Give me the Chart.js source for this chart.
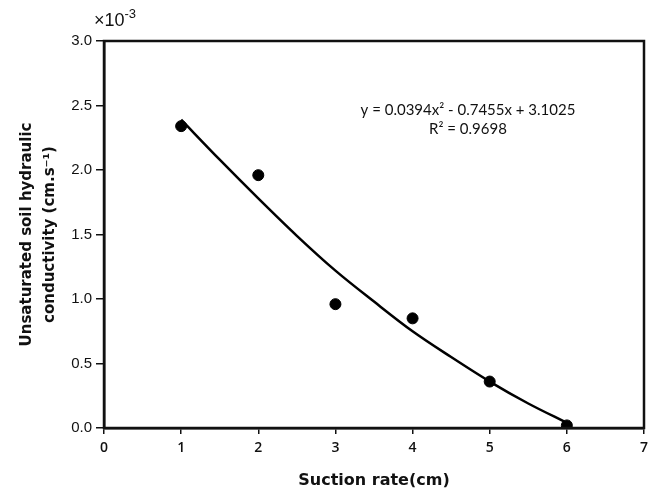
<!DOCTYPE html>
<html>
<head>
<meta charset="utf-8">
<script src="https://cdn.jsdelivr.net/npm/chart.js@4.4.1/dist/chart.umd.min.js"></script>
<style>
  html, body { margin: 0; padding: 0; background: #fff; }
</style>
</head>
<body>
<canvas id="chart" width="654" height="492"></canvas>
<script>
// measured points (suction rate in cm, conductivity in 1e-3 cm/s)
var suction = [1, 2, 3, 4, 5, 6];
var conductivity = [2.34, 1.96, 0.96, 0.85, 0.36, 0.02];

// polynomial trendline
var trendX = [1, 1.5, 2, 2.5, 3, 3.5, 4, 4.5, 5, 5.5, 6];
var trendY = [2.39, 2.08, 1.78, 1.49, 1.22, 0.98, 0.75, 0.55, 0.36, 0.19, 0.04];

var xTicks = [0, 1, 2, 3, 4, 5, 6, 7];
var yTicks = [0, 0.5, 1.0, 1.5, 2.0, 2.5, 3.0];

var eqLine1 = "y = 0.0394x² - 0.7455x + 3.1025";
var eqLine2 = "R² = 0.9698";

function pairs(xs, ys) {
    return xs.map(function (x, i) { return { x: x, y: ys[i] }; });
}

// frame round plot area + extra texts
var framePlugin = {
    id: "frame",
    afterDraw: function (chart) {
        var ctx = chart.ctx, a = chart.chartArea;
        ctx.save();
        ctx.strokeStyle = "#111";
        ctx.lineWidth = 2.5;
        ctx.strokeRect(a.left, a.top, a.right - a.left, a.bottom - a.top);

        // x10^-3 multiplier
        ctx.fillStyle = "#111";
        ctx.textBaseline = "alphabetic";
        ctx.textAlign = "left";
        ctx.font = "18px 'Liberation Sans'";
        ctx.fillText("×10", 94, 26);
        var w = ctx.measureText("×10").width;
        ctx.font = "13px 'Liberation Sans'";
        ctx.fillText("-3", 94 + w, 18);

        // trendline equation
        ctx.font = "15px Lato";
        ctx.textAlign = "center";
        ctx.textBaseline = "middle";
        ctx.fillText(eqLine1, 468, 110);
        ctx.fillText(eqLine2, 468, 129);
        ctx.restore();
    }
};

new Chart(document.getElementById("chart"), {
    type: "scatter",
    data: {
        datasets: [
            {
                label: "trend",
                type: "line",
                data: pairs(trendX, trendY),
                borderColor: "#000",
                borderWidth: 2.5,
                pointRadius: 0,
                cubicInterpolationMode: "monotone",
                fill: false,
                order: 2
            },
            {
                label: "measured",
                data: pairs(suction, conductivity),
                backgroundColor: "#000",
                borderColor: "#000",
                pointRadius: 5.5,
                order: 1
            }
        ]
    },
    options: {
        responsive: false,
        animation: false,
        devicePixelRatio: 1,
        layout: { padding: { top: 41, right: 10, left: 0, bottom: 0 } },
        plugins: {
            legend: { display: false },
            tooltip: { enabled: false }
        },
        scales: {
            x: {
                type: "linear",
                min: 0,
                max: 7,
                afterBuildTicks: function (s) { s.ticks = xTicks.map(function (v) { return { value: v }; }); },
                afterFit: function (s) { s.height = 64; },
                grid: { drawOnChartArea: false, drawTicks: true, tickLength: 6, color: "#111", lineWidth: 1.5 },
                border: { color: "#111", width: 2.5 },
                ticks: {
                    color: "#111",
                    padding: 6,
                    font: { family: "'Open Sans'", size: 14, weight: "600" },
                    maxRotation: 0
                },
                title: {
                    display: true,
                    text: "Suction rate(cm)",
                    color: "#111",
                    font: { family: "'DejaVu Sans'", size: 16, weight: "bold" },
                    padding: { top: 0, bottom: 2 }
                }
            },
            y: {
                min: 0,
                max: 3,
                afterBuildTicks: function (s) { s.ticks = yTicks.map(function (v) { return { value: v }; }); },
                afterFit: function (s) { s.width = 104; },
                grid: { drawOnChartArea: false, drawTicks: true, tickLength: 8, color: "#111", lineWidth: 1.5 },
                border: { color: "#111", width: 2.5 },
                ticks: {
                    color: "#111",
                    padding: 4,
                    font: { family: "'Liberation Sans'", size: 15 },
                    callback: function (v) { return Number(v).toFixed(1); }
                },
                title: {
                    display: true,
                    text: ["Unsaturated soil hydraulic", "conductivity (cm.s⁻¹)"],
                    color: "#111",
                    font: { family: "'DejaVu Sans'", size: 15, weight: "bold", lineHeight: 1.5 },
                    padding: { top: 16, bottom: 0 }
                }
            }
        }
    },
    plugins: [framePlugin]
});
</script>
</body>
</html>
